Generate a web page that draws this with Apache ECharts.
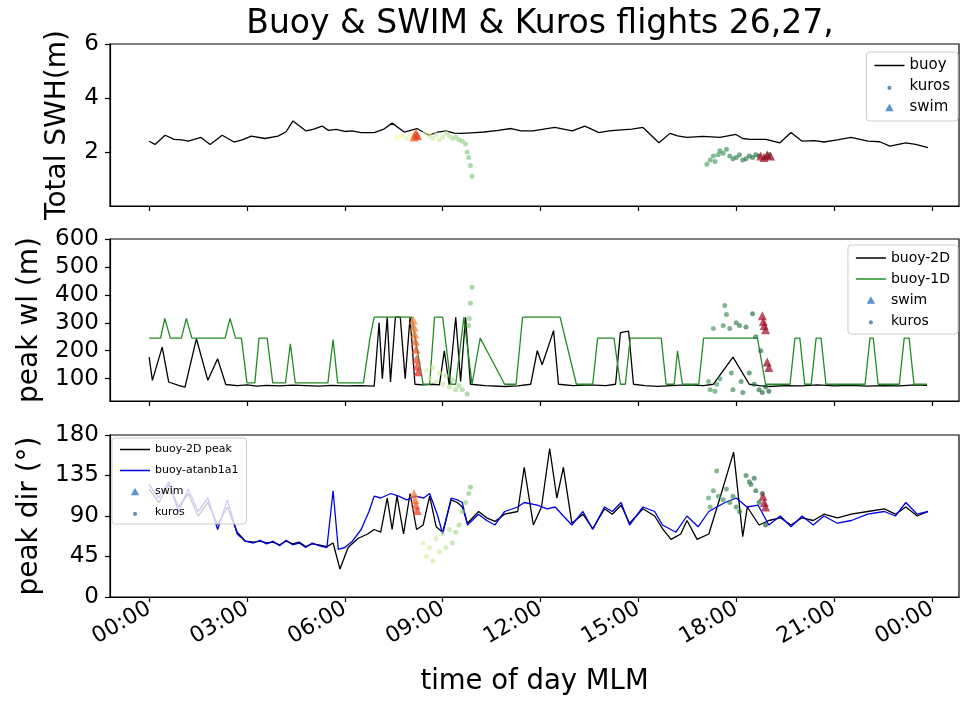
<!DOCTYPE html>
<html>
<head>
<meta charset="utf-8">
<style>
  html, body { margin: 0; background: #fff; }
  #chart { width: 960px; height: 704px; }
</style>
</head>
<body>
<div id="chart"></div>
<script src="https://cdn.jsdelivr.net/npm/echarts@6/dist/echarts.min.js"></script>
<script>
'use strict';

/* x values are hours of the day (MLM) */
const tickHours = [0, 3, 6, 9, 12, 15, 18, 21, 24];

// panel 1: total SWH (m)
const buoySwh = [
  [0, 2.40], [0.18, 2.28], [0.49, 2.62], [0.77, 2.47], [1.0, 2.45], [1.2, 2.40], [1.59, 2.54], [1.87, 2.28],
  [2.24, 2.62], [2.6, 2.37], [2.85, 2.45], [3.13, 2.59], [3.55, 2.50], [3.95, 2.59], [4.2, 2.75], [4.41, 3.15],
  [4.81, 2.78], [5.05, 2.85], [5.3, 2.96], [5.5, 2.80], [5.73, 2.84], [6.0, 2.76], [6.22, 2.78], [6.5, 2.72],
  [6.9, 2.72], [7.2, 2.85], [7.45, 3.07], [7.82, 2.74], [8.21, 2.87], [8.58, 2.62], [8.85, 2.74], [9.1, 2.78],
  [9.35, 2.70], [9.59, 2.69], [10.0, 2.72], [10.27, 2.74], [10.7, 2.80], [11.1, 2.87], [11.4, 2.78], [11.77, 2.78],
  [12.1, 2.85], [12.44, 2.91], [12.97, 2.78], [13.36, 2.96], [13.79, 2.72], [14.1, 2.78], [14.47, 2.82], [14.8, 2.85],
  [15.14, 2.91], [15.63, 2.34], [15.97, 2.69], [16.2, 2.60], [16.49, 2.54], [16.98, 2.58], [17.5, 2.54], [17.99, 2.65],
  [18.2, 2.50], [18.42, 2.47], [18.91, 2.47], [19.34, 2.34], [19.68, 2.72], [20.02, 2.40], [20.4, 2.42], [20.69, 2.37],
  [21.1, 2.45], [21.52, 2.54], [22.04, 2.40], [22.4, 2.38], [22.71, 2.22], [23.2, 2.34], [23.5, 2.28], [23.88, 2.16]
];
const kurosSwh = [
  [7.6, 2.55], [7.75, 2.6], [7.9, 2.5], [8.0, 2.65], [8.3, 2.55], [8.45, 2.7], [8.6, 2.6], [8.7, 2.5], [8.8, 2.65],
  [8.9, 2.45], [9.0, 2.55], [9.1, 2.7], [9.2, 2.6], [9.3, 2.5], [9.4, 2.55], [9.5, 2.45], [9.6, 2.4], [9.7, 2.3],
  [9.75, 2.0], [9.8, 1.8], [9.85, 1.5], [9.9, 1.1],
  [17.1, 1.55], [17.2, 1.7], [17.3, 1.85], [17.35, 1.65], [17.45, 1.9], [17.5, 2.05], [17.6, 1.95], [17.7, 2.1],
  [17.8, 1.85], [17.9, 1.75], [18.0, 1.8], [18.1, 1.9], [18.2, 1.7], [18.3, 1.75], [18.4, 1.85], [18.5, 1.8],
  [18.6, 1.9], [18.7, 1.85], [18.9, 1.8], [19.0, 1.9]
];
const swimSwh = [
  [8.12, 2.55], [8.15, 2.62], [8.18, 2.7], [8.22, 2.6],
  [18.75, 1.85], [18.85, 1.8], [18.95, 1.9], [19.05, 1.85]
];

// panel 2: peak wavelength (m)
const buoy2dWl = [
  [0, 177], [0.1, 94], [0.4, 213], [0.6, 88], [0.9, 76], [1.1, 70], [1.45, 243], [1.8, 94], [2.1, 171], [2.35, 79],
  [2.7, 75], [3.0, 78], [3.3, 73], [3.6, 76], [4.0, 74], [4.4, 77], [4.8, 75], [5.2, 73], [5.6, 76], [6.0, 74],
  [6.5, 75], [6.9, 73], [7.05, 300], [7.15, 100], [7.3, 320], [7.4, 88], [7.55, 320], [7.7, 320], [7.85, 100],
  [8.0, 320], [8.15, 80], [8.4, 78], [8.7, 80], [8.9, 78], [9.05, 200], [9.2, 78], [9.4, 320], [9.55, 90],
  [9.7, 320], [9.85, 80], [10.3, 75], [10.9, 72], [11.3, 74], [11.7, 80], [11.9, 200], [12.05, 150], [12.4, 272],
  [12.55, 80], [13.0, 75], [13.5, 78], [14.0, 75], [14.3, 80], [14.45, 265], [14.7, 270], [14.85, 80], [15.2, 75],
  [15.6, 72], [16.0, 75], [16.5, 78], [17.0, 75], [17.3, 80], [17.9, 177], [18.4, 80], [18.7, 75], [19.0, 72],
  [19.5, 75], [20.0, 74], [20.5, 78], [21.0, 74], [21.5, 76], [22.0, 73], [22.5, 75], [23.0, 74], [23.5, 78], [23.85, 76]
];
const buoy1dWl = [
  [0, 245], [0.35, 245], [0.48, 316], [0.65, 245], [0.99, 245], [1.14, 316], [1.31, 245], [2.33, 245], [2.48, 316],
  [2.65, 245], [2.83, 245], [3.0, 85], [3.24, 85], [3.37, 245], [3.62, 245], [3.79, 85], [4.18, 85], [4.33, 225],
  [4.48, 85], [5.48, 85], [5.64, 240], [5.78, 85], [6.57, 85], [6.77, 245], [6.9, 320], [8.05, 320], [8.4, 80],
  [8.6, 80], [8.75, 320], [9.0, 320], [9.25, 80], [9.4, 80], [9.65, 320], [9.9, 80], [10.15, 245], [10.9, 80],
  [11.25, 80], [11.45, 320], [12.6, 320], [13.1, 80], [13.6, 80], [13.75, 245], [14.25, 245], [14.45, 80],
  [14.6, 80], [14.75, 245], [15.7, 245], [15.85, 80], [16.1, 80], [16.2, 200], [16.35, 80], [16.85, 80],
  [17.0, 245], [18.65, 245], [18.9, 80], [19.65, 80], [19.8, 245], [19.95, 245], [20.1, 80], [20.3, 80],
  [20.45, 245], [20.6, 245], [20.75, 80], [21.95, 80], [22.1, 245], [22.2, 245], [22.35, 80], [23.0, 80],
  [23.15, 245], [23.3, 245], [23.45, 80], [23.85, 80]
];
const kurosWl = [
  [8.5, 130], [8.6, 100], [8.7, 140], [8.8, 90], [8.9, 120], [9.0, 80], [9.1, 110], [9.2, 70], [9.3, 95],
  [9.4, 60], [9.5, 75], [9.6, 60], [9.75, 45], [9.8, 290], [9.82, 315], [9.85, 370], [9.9, 427],
  [17.15, 90], [17.2, 60], [17.3, 280], [17.35, 55], [17.4, 80], [17.5, 100], [17.6, 290], [17.65, 362],
  [17.7, 330], [17.8, 280], [17.85, 120], [17.9, 60], [18.0, 300], [18.1, 290], [18.15, 90], [18.2, 50],
  [18.3, 285], [18.4, 120], [18.5, 332], [18.55, 80], [18.6, 250], [18.7, 60], [18.75, 200], [18.8, 50],
  [18.9, 70], [19.0, 55]
];
const swimWl = [
  [8.1, 310], [8.12, 285], [8.14, 260], [8.16, 235], [8.18, 205], [8.2, 170], [8.22, 145], [8.25, 125],
  [18.8, 325], [18.83, 305], [18.86, 290], [18.9, 275], [18.95, 160], [19.0, 140]
];

// panel 3: peak direction (deg)
const buoy2dDir = [
  [0, 120], [0.3, 105], [0.6, 125], [0.9, 100], [1.2, 115], [1.5, 90], [1.8, 105], [2.1, 80], [2.4, 100], [2.7, 72],
  [2.95, 62], [3.2, 61], [3.4, 62], [3.6, 60], [3.8, 61], [4.0, 58], [4.2, 62], [4.4, 59], [4.6, 61], [4.8, 56],
  [5.0, 59], [5.2, 58], [5.45, 56], [5.64, 60], [5.85, 31], [6.1, 55], [6.4, 65], [6.7, 70], [6.9, 75], [7.1, 72],
  [7.3, 110], [7.45, 75], [7.6, 112], [7.8, 70], [8.0, 115], [8.2, 75], [8.4, 80], [8.6, 112], [8.8, 78], [9.0, 72],
  [9.26, 108], [9.45, 105], [9.6, 100], [9.76, 82], [10.1, 95], [10.35, 88], [10.6, 84], [10.9, 92], [11.3, 95],
  [11.5, 144], [11.78, 80], [12.03, 100], [12.28, 165], [12.5, 110], [12.7, 144], [12.96, 82], [13.3, 92],
  [13.6, 76], [13.96, 98], [14.2, 92], [14.47, 102], [14.73, 82], [15.14, 98], [15.5, 90], [15.74, 76], [16.0, 64],
  [16.3, 70], [16.49, 85], [16.8, 64], [17.16, 70], [17.5, 110], [17.92, 161], [18.2, 67], [18.34, 100], [18.7, 80],
  [19.0, 85], [19.35, 88], [19.68, 80], [20.02, 88], [20.36, 85], [20.69, 92], [21.1, 88], [21.53, 92], [22.03, 95],
  [22.54, 98], [22.88, 92], [23.2, 100], [23.55, 90], [23.88, 95]
];
const buoyAtanDir = [
  [0, 125], [0.3, 110], [0.6, 128], [0.9, 95], [1.2, 120], [1.5, 95], [1.8, 110], [2.1, 75], [2.4, 108], [2.7, 70],
  [2.95, 62], [3.2, 60], [3.4, 63], [3.6, 59], [3.8, 62], [4.0, 57], [4.2, 63], [4.4, 58], [4.6, 60], [4.8, 55],
  [5.0, 60], [5.2, 57], [5.45, 55], [5.64, 118], [5.8, 53], [6.0, 55], [6.23, 62], [6.5, 75], [6.74, 95], [6.9, 112],
  [7.1, 110], [7.41, 115], [7.65, 112], [7.9, 108], [8.15, 112], [8.42, 110], [8.6, 115], [8.85, 90], [9.0, 70],
  [9.26, 110], [9.45, 108], [9.6, 105], [9.76, 80], [10.1, 92], [10.35, 85], [10.6, 80], [10.9, 95], [11.3, 100],
  [11.5, 105], [11.9, 102], [12.2, 98], [12.45, 100], [12.7, 90], [12.96, 80], [13.3, 95], [13.6, 75], [13.96, 100],
  [14.2, 95], [14.47, 105], [14.73, 80], [15.14, 100], [15.5, 95], [15.74, 80], [16.15, 72], [16.49, 90], [16.83, 78],
  [17.16, 95], [17.4, 100], [17.66, 105], [18.0, 110], [18.33, 100], [18.67, 102], [19.0, 80], [19.35, 90],
  [19.68, 78], [20.02, 90], [20.36, 80], [20.69, 90], [21.1, 82], [21.53, 85], [22.03, 92], [22.54, 95], [22.88, 90],
  [23.2, 105], [23.55, 92], [23.88, 95]
];
const kurosDir = [
  [8.4, 60], [8.5, 45], [8.6, 55], [8.7, 40], [8.8, 65], [8.9, 50], [9.0, 70], [9.1, 55], [9.2, 75], [9.3, 60],
  [9.4, 72], [9.5, 80], [9.6, 95], [9.7, 105], [9.8, 115], [9.85, 122],
  [17.15, 110], [17.2, 100], [17.3, 118], [17.4, 140], [17.45, 112], [17.6, 108], [17.7, 120], [17.8, 105],
  [17.9, 112], [18.0, 100], [18.1, 95], [18.3, 135], [18.4, 128], [18.45, 125], [18.55, 132], [18.6, 118],
  [18.7, 105], [18.8, 115], [18.9, 80]
];
const swimDir = [
  [8.12, 115], [8.15, 108], [8.18, 102], [8.22, 96],
  [18.82, 112], [18.86, 105], [18.9, 100]
];

const FONT = 'DejaVu Sans';

// colour ramps for the flight points (by time of day)
const KUROS_RAMP = [[7.5, [255, 247, 160]], [9.0, [199, 233, 160]], [10, [111, 191, 115]], [17, [74, 163, 99]], [19, [15, 92, 50]]];
const SWIM_RAMP = [[8.08, [247, 150, 60]], [8.26, [227, 26, 28]], [18.7, [180, 16, 40]], [19.05, [140, 10, 36]]];

const ramp = (stops, h, alpha) => {
  let c = stops[stops.length - 1][1];
  if (h <= stops[0][0]) c = stops[0][1];
  for (let i = 0; i < stops.length - 1; i++) {
    const [h0, c0] = stops[i];
    const [h1, c1] = stops[i + 1];
    if (h >= h0 && h <= h1) {
      const t = (h - h0) / (h1 - h0);
      c = c0.map((v, k) => Math.round(v + t * (c1[k] - v)));
    }
  }
  return `rgba(${c[0]},${c[1]},${c[2]},${alpha})`;
};

const hourLabel = (v) => String(v % 24).padStart(2, '0') + ':00';

const grids = [44, 239, 435].map((top) => ({
  left: 110, right: 1, top, height: 162,
  show: true, borderColor: '#000', borderWidth: 1.2
}));

const xAxes = grids.map((g, i) => ({
  gridIndex: i,
  type: 'value',
  min: -1.2,
  max: 24.83,
  splitLine: { show: false },
  axisLine: { show: true, onZero: false, lineStyle: { color: '#000', width: 1.2 } },
  axisTick: { show: true, length: 5, customValues: tickHours, lineStyle: { color: '#000', width: 1.2 } },
  axisLabel: {
    show: i === 2, customValues: tickHours, rotate: 30, margin: 10,
    fontSize: 22, fontFamily: FONT, color: '#000', formatter: hourLabel
  },
  name: i === 2 ? 'time of day MLM' : '',
  nameLocation: 'middle',
  nameGap: 71,
  nameTextStyle: { fontSize: 27.5, fontFamily: FONT, color: '#000' }
}));

const yAxisBase = (i, name, min, max, ticks, gap) => ({
  gridIndex: i,
  type: 'value',
  min, max,
  splitLine: { show: false },
  axisLine: { show: true, onZero: false, lineStyle: { color: '#000', width: 1.2 } },
  axisTick: { show: true, length: 5, customValues: ticks, lineStyle: { color: '#000', width: 1.2 } },
  axisLabel: { customValues: ticks, margin: 11, fontSize: 23, fontFamily: FONT, color: '#000' },
  name, nameLocation: 'middle', nameGap: gap,
  nameTextStyle: { fontSize: 28, fontFamily: FONT, color: '#000' }
});

const yAxes = [
  yAxisBase(0, 'Total SWH(m)', 0, 6, [2, 4, 6], 38),
  yAxisBase(1, 'peak wl (m)', 20, 600, [20, 100, 200, 300, 400, 500, 600], 65),
  yAxisBase(2, 'peak dir (°)', 0, 180, [0, 45, 90, 135, 180], 65)
];

const line = (name, data, i, color) => ({
  name, type: 'line', data, xAxisIndex: i, yAxisIndex: i,
  showSymbol: false, symbol: 'none', z: 2,
  lineStyle: { color, width: 1.3 }, itemStyle: { color }
});
const kuros = (data, i) => ({
  name: 'kuros', type: 'scatter', data, xAxisIndex: i, yAxisIndex: i,
  symbol: 'circle', symbolSize: 5, z: 3,
  itemStyle: { color: (p) => ramp(KUROS_RAMP, p.value[0], 0.8) }
});
const swim = (data, i) => ({
  name: 'swim', type: 'scatter', data, xAxisIndex: i, yAxisIndex: i,
  symbol: 'triangle', symbolSize: 9, z: 4,
  itemStyle: { color: (p) => ramp(SWIM_RAMP, p.value[0], 0.9) }
});

// legend handles: a short line for the buoy series, small marker for the flights
const LINE_ICON = 'path://M0,0L32,0L32,1.6L0,1.6Z';
const lineKey = (name, color) => ({ name, icon: LINE_ICON, itemStyle: { color } });
const KUROS_KEY = { name: 'kuros', icon: 'path://M0,0L32,0L32,0.01L0,0.01ZM16,3a2.2,2.2 0 1,0 0.01,0Z', itemStyle: { color: '#3e78a8' } };
const SWIM_KEY = { name: 'swim', icon: 'path://M0,0L32,0L32,0.01L0,0.01ZM16,0L20.5,8L11.5,8Z', itemStyle: { color: '#2f7bbd' } };

const legendBase = (pos, data, fontSize, gap) => Object.assign({
  orient: 'vertical',
  align: 'left',
  data,
  itemWidth: 30,
  itemHeight: 9,
  itemGap: gap,
  padding: [6, 8],
  backgroundColor: 'rgba(255,255,255,0.8)',
  borderColor: '#cccccc',
  borderWidth: 1,
  borderRadius: 3,
  textStyle: { fontSize, fontFamily: FONT, color: '#000' }
}, pos);

const chart = echarts.init(document.getElementById('chart'));
chart.setOption({
  animation: false,
  backgroundColor: '#fff',
  title: {
    text: 'Buoy & SWIM & Kuros flights 26,27,',
    left: 535, top: 3, textAlign: 'center',
    textStyle: { fontSize: 33, fontWeight: 'normal', fontFamily: FONT, color: '#000' }
  },
  grid: grids,
  xAxis: xAxes,
  yAxis: yAxes,
  legend: [
    legendBase({ right: 2, top: 52 }, [lineKey('buoy', '#000'), KUROS_KEY, SWIM_KEY], 15, 6),
    legendBase({ right: 2, top: 245 }, [lineKey('buoy-2D', '#000'), lineKey('buoy-1D', '#238b23'), SWIM_KEY, KUROS_KEY], 14, 7),
    legendBase({ left: 112, top: 438 }, [lineKey('buoy-2D peak', '#000'), lineKey('buoy-atanb1a1', '#0000e6'), SWIM_KEY, KUROS_KEY], 11, 10)
  ],
  series: [
    line('buoy', buoySwh, 0, '#000000'),
    kuros(kurosSwh, 0),
    swim(swimSwh, 0),
    line('buoy-2D', buoy2dWl, 1, '#000000'),
    line('buoy-1D', buoy1dWl, 1, '#238b23'),
    kuros(kurosWl, 1),
    swim(swimWl, 1),
    line('buoy-2D peak', buoy2dDir, 2, '#000000'),
    line('buoy-atanb1a1', buoyAtanDir, 2, '#0000e6'),
    kuros(kurosDir, 2),
    swim(swimDir, 2)
  ]
});
</script>
</body>
</html>
